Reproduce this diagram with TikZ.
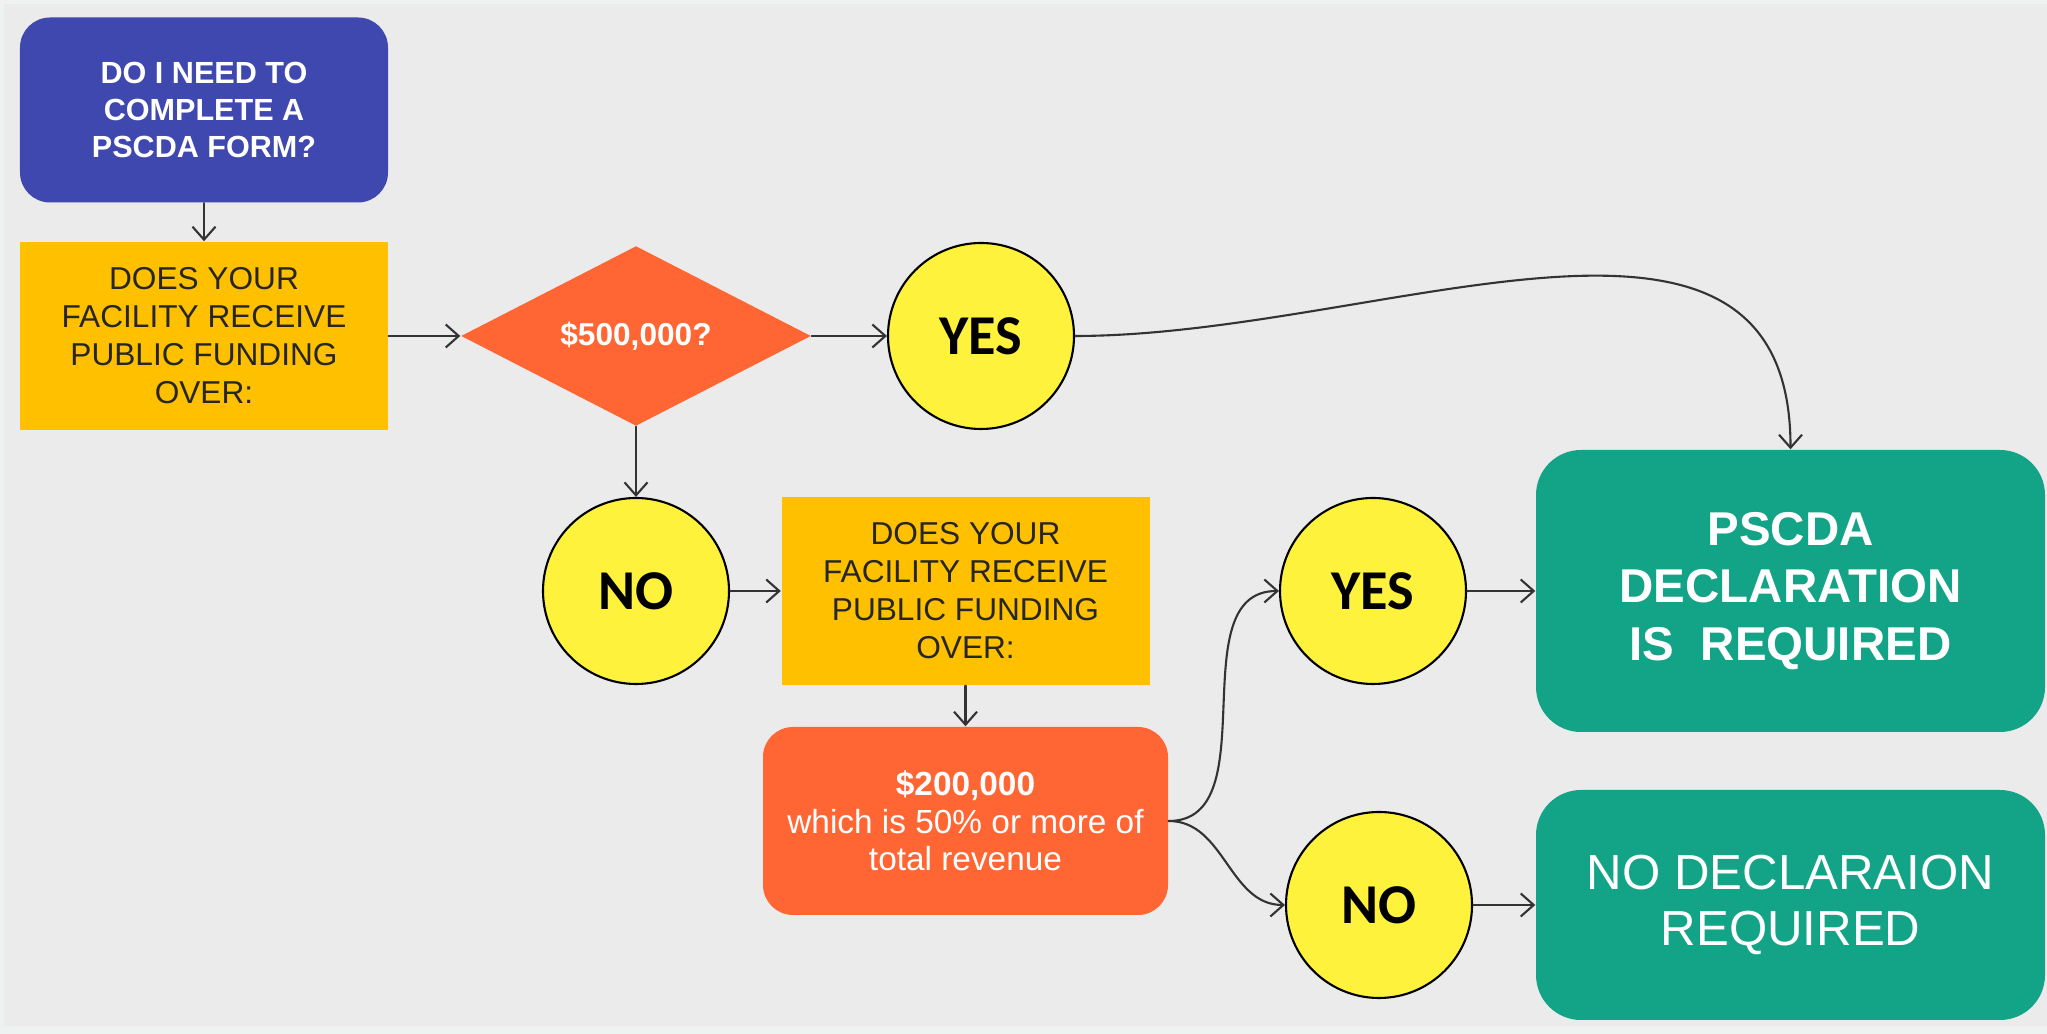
\documentclass[tikz,border=0pt]{standalone}
\usepackage{fontspec}
\setmainfont{Liberation Sans}
\newfontfamily\ballfont{Carlito}
\usetikzlibrary{arrows.meta}
\usetikzlibrary{shapes.geometric}
\definecolor{bgcol}{HTML}{EBEBEB}
\definecolor{framecol}{HTML}{EEF3F2}
\definecolor{startcol}{HTML}{3F48AE}
\definecolor{askcol}{HTML}{FFC000}
\definecolor{sumcol}{HTML}{FF6633}
\definecolor{ballcol}{HTML}{FFF23C}
\definecolor{endcol}{HTML}{13A386}
\definecolor{linecol}{HTML}{333333}

\begin{document}
\begin{tikzpicture}[line cap=round,line join=round,>={Straight Barb[length=1.3mm,width=2.3mm]},x=1.0cm,y=1.0cm,
    askbox/.style={fill=askcol,minimum width=3.68cm,minimum height=1.88cm,inner sep=0pt,align=center,
      font=\fontsize{9}{10.8}\selectfont,text=black!85},
    ball/.style={circle,draw=black,line width=0.6pt,fill=ballcol,minimum size=1.86cm,inner sep=0pt,
      font=\ballfont\bfseries\fontsize{16}{18}\selectfont},
    endbox/.style={fill=endcol,rounded corners=0.45cm,minimum width=5.09cm,inner sep=0pt,align=center,text=white},
    link/.style={->,draw=linecol,line width=0.6pt}]
    % background
    \fill[framecol] (0,0) rectangle (20.47,10.34);
    \fill[bgcol] (0.04,0.08) rectangle (20.47,10.30);
    % nodes
    \node[fill=startcol,rounded corners=0.3cm,minimum width=3.68cm,minimum height=1.85cm,inner sep=0pt,align=center,
      text=white,font=\bfseries\fontsize{8.7}{10.5}\selectfont] (start) at (2.04,9.24) {DO I NEED TO\\COMPLETE A\\PSCDA FORM?};
    \node[askbox] (ask1) at (2.04,6.98) {DOES YOUR\\FACILITY RECEIVE\\PUBLIC FUNDING\\OVER:};
    \node[diamond,fill=sumcol,minimum width=3.5cm,minimum height=1.8cm,inner sep=0pt,text=white,
      font=\bfseries\fontsize{9}{11}\selectfont] (big) at (6.36,6.98) {\$500,000?};
    \node[ball] (yes1) at (9.81,6.98) {YES};
    \node[ball] (no1) at (6.36,4.43) {NO};
    \node[askbox] (ask2) at (9.655,4.43) {DOES YOUR\\FACILITY RECEIVE\\PUBLIC FUNDING\\OVER:};
    \node[fill=sumcol,rounded corners=0.3cm,minimum width=4.05cm,minimum height=1.88cm,inner sep=0pt,align=center,
      text=white,font=\fontsize{9.5}{10.7}\selectfont] (small) at (9.655,2.13) {\textbf{\$200,000}\\which is 50\% or more of\\total revenue};
    \node[ball] (yes2) at (13.73,4.43) {YES};
    \node[ball] (no2) at (13.79,1.29) {NO};
    \node[endbox,minimum height=2.82cm,font=\bfseries\fontsize{13.5}{16.3}\selectfont] (need) at (17.905,4.43) {PSCDA\\DECLARATION\\IS~~REQUIRED};
    \node[endbox,minimum height=2.30cm,font=\fontsize{14}{16}\selectfont] (noneed) at (17.905,1.29) {NO DECLARAION\\REQUIRED};
    % connectors
    \draw[link] (start) -- (ask1);
    \draw[link] (ask1.east) -- (big.west);
    \draw[link] (big.east) -- (yes1.west);
    \draw[link] (big.south) -- (no1.north);
    \draw[link] (no1.east) -- (ask2.west);
    \draw[link] (ask2.south) -- (small.north);
    \draw[link] (yes1.east) .. controls +(3.05,0) and +(0,3.06) .. (need.north);
    \draw[link] (small.east) to[out=0,in=180] (yes2.west);
    \draw[link] (small.east) to[out=0,in=180] (no2.west);
    \draw[link] (yes2.east) -- (need.west);
    \draw[link] (no2.east) -- (noneed.west);
\end{tikzpicture}
\end{document}
